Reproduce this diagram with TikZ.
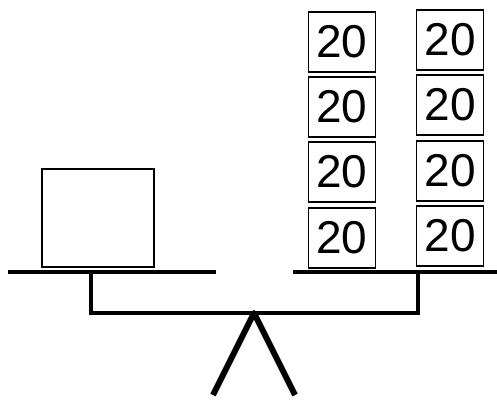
\documentclass[tikz,border=0pt]{standalone}
\usepackage{fontspec}
\setmainfont{Liberation Sans}
\begin{document}
\begin{tikzpicture}[x=1pt,y=-1pt]
    \tikzset{weight/.style={draw, line width=1.6pt, minimum width=67pt, minimum height=60pt, inner sep=0pt, font=\fontsize{46}{46}\selectfont}}
    \useasboundingbox (0,0) rectangle (497,399);
    % load on the left pan
    \node[draw, line width=1.6pt, minimum width=112pt, minimum height=98pt] (load) at (98,218) {};
    % weights on the right pan
    \foreach \y [count=\i] in {42,107,172,238}{
        \node[weight] (a\i) at (342,\y) {20};
    }
    \foreach \y [count=\i] in {40,105,171,236}{
        \node[weight] (b\i) at (450,\y) {20};
    }
    % pans and beam
    \draw[line width=4pt] (8,272)--(216,272);
    \draw[line width=4pt] (293,272)--(497,272);
    \draw[line width=3.5pt] (91,272)--(91,313)--(418,313)--(418,272);
    % fulcrum
    \draw[line width=6pt, line join=round] (213,395)--(254,313)--(295,395);
\end{tikzpicture}
\end{document}
